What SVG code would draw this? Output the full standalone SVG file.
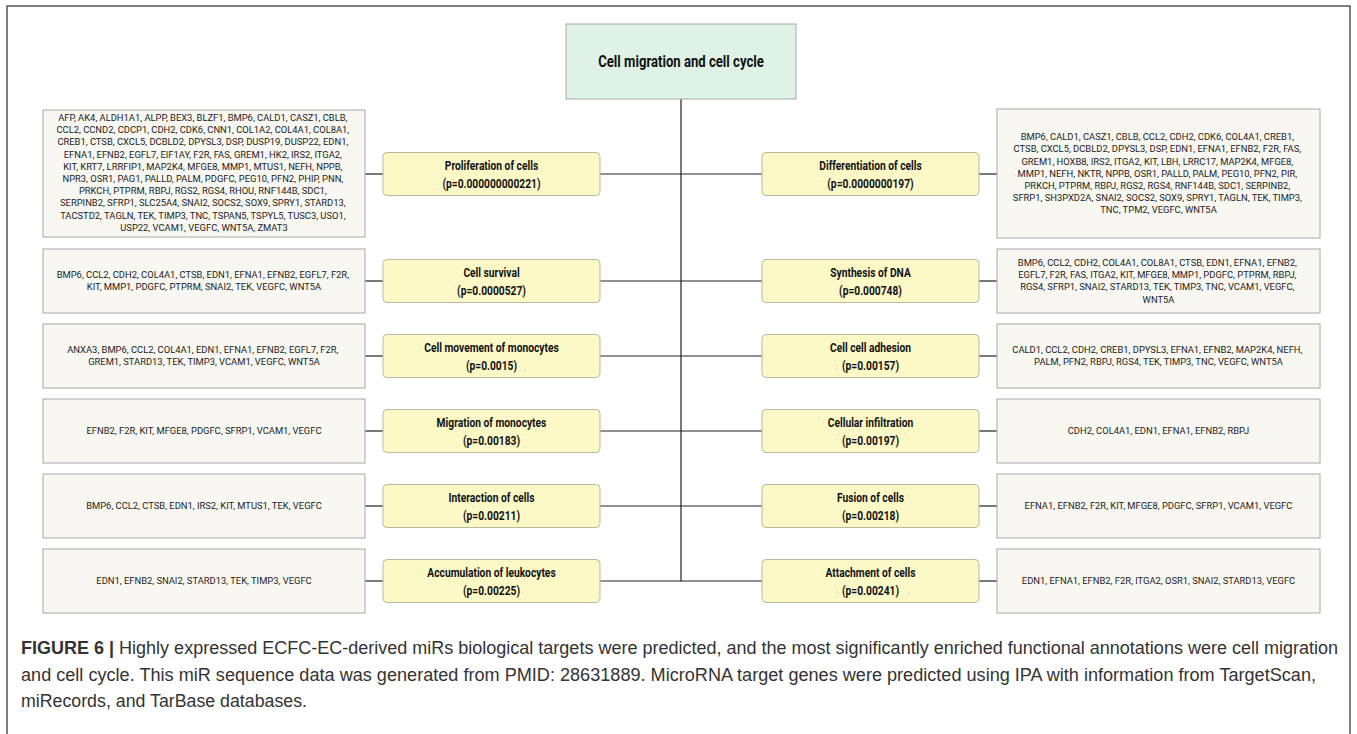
<svg xmlns="http://www.w3.org/2000/svg" width="1357" height="734" viewBox="0 0 1357 734">
<style>
.frame{fill:#fff;stroke:#555;stroke-width:1.5}
.gene{fill:#f8f7f2;stroke:#a8a8a8;stroke-width:1}
.fn{fill:#fcf9c6;stroke:#b9b9a4;stroke-width:1}
.root{fill:#def3e5;stroke:#a8a8a8;stroke-width:1}
.g{font-family:Roboto,"Liberation Sans",sans-serif;font-size:9.4px;fill:#222;text-anchor:middle}
.l{font-family:Roboto,"Liberation Sans",sans-serif;font-size:12.5px;font-weight:700;fill:#111;text-anchor:middle}
.t{font-family:Roboto,"Liberation Sans",sans-serif;font-size:16px;font-weight:700;fill:#111;text-anchor:middle}
.cap{font-family:"Liberation Sans",Arial,sans-serif;font-size:17.5px;fill:#333}
.conn line{stroke:#222;stroke-width:1.2}
</style>
<rect class="frame" x="7" y="6" width="1343" height="740"/>

<g id="connectors" class="conn">
<line x1="681" y1="99" x2="681" y2="581.5"/>
<line x1="365" y1="174" x2="383" y2="174"/><line x1="600" y1="174" x2="762" y2="174"/><line x1="979" y1="174" x2="997" y2="174"/>
<line x1="365" y1="281" x2="383" y2="281"/><line x1="600" y1="281" x2="762" y2="281"/><line x1="979" y1="281" x2="997" y2="281"/>
<line x1="365" y1="356" x2="383" y2="356"/><line x1="600" y1="356" x2="762" y2="356"/><line x1="979" y1="356" x2="997" y2="356"/>
<line x1="365" y1="431" x2="383" y2="431"/><line x1="600" y1="431" x2="762" y2="431"/><line x1="979" y1="431" x2="997" y2="431"/>
<line x1="365" y1="506" x2="383" y2="506"/><line x1="600" y1="506" x2="762" y2="506"/><line x1="979" y1="506" x2="997" y2="506"/>
<line x1="365" y1="581" x2="383" y2="581"/><line x1="600" y1="581" x2="762" y2="581"/><line x1="979" y1="581" x2="997" y2="581"/>
</g>

<g id="root">
<rect class="root" x="566" y="24" width="230" height="75"/>
<text class="t" transform="translate(681,67) scale(0.82,1)">Cell migration and cell cycle</text>
</g>

<g id="f1"><rect class="fn" x="383" y="152.5" width="217" height="43" rx="4"/>
<text class="l" transform="translate(491.5,170) scale(0.82,1)">Proliferation of cells</text>
<text class="l" transform="translate(491.5,188) scale(0.82,1)">(p=0.000000000221)</text></g>
<g id="f2"><rect class="fn" x="762" y="152.5" width="217" height="43" rx="4"/>
<text class="l" transform="translate(870.5,170) scale(0.82,1)">Differentiation of cells</text>
<text class="l" transform="translate(870.5,188) scale(0.82,1)">(p=0.0000000197)</text></g>
<g id="f3"><rect class="fn" x="383" y="259.5" width="217" height="43" rx="4"/>
<text class="l" transform="translate(491.5,277) scale(0.82,1)">Cell survival</text>
<text class="l" transform="translate(491.5,295) scale(0.82,1)">(p=0.0000527)</text></g>
<g id="f4"><rect class="fn" x="762" y="259.5" width="217" height="43" rx="4"/>
<text class="l" transform="translate(870.5,277) scale(0.82,1)">Synthesis of DNA</text>
<text class="l" transform="translate(870.5,295) scale(0.82,1)">(p=0.000748)</text></g>
<g id="f5"><rect class="fn" x="383" y="334.5" width="217" height="43" rx="4"/>
<text class="l" transform="translate(491.5,352) scale(0.82,1)">Cell movement of monocytes</text>
<text class="l" transform="translate(491.5,370) scale(0.82,1)">(p=0.0015)</text></g>
<g id="f6"><rect class="fn" x="762" y="334.5" width="217" height="43" rx="4"/>
<text class="l" transform="translate(870.5,352) scale(0.82,1)">Cell cell adhesion</text>
<text class="l" transform="translate(870.5,370) scale(0.82,1)">(p=0.00157)</text></g>
<g id="f7"><rect class="fn" x="383" y="409.5" width="217" height="43" rx="4"/>
<text class="l" transform="translate(491.5,427) scale(0.82,1)">Migration of monocytes</text>
<text class="l" transform="translate(491.5,445) scale(0.82,1)">(p=0.00183)</text></g>
<g id="f8"><rect class="fn" x="762" y="409.5" width="217" height="43" rx="4"/>
<text class="l" transform="translate(870.5,427) scale(0.82,1)">Cellular infiltration</text>
<text class="l" transform="translate(870.5,445) scale(0.82,1)">(p=0.00197)</text></g>
<g id="f9"><rect class="fn" x="383" y="484.5" width="217" height="43" rx="4"/>
<text class="l" transform="translate(491.5,502) scale(0.82,1)">Interaction of cells</text>
<text class="l" transform="translate(491.5,520) scale(0.82,1)">(p=0.00211)</text></g>
<g id="f10"><rect class="fn" x="762" y="484.5" width="217" height="43" rx="4"/>
<text class="l" transform="translate(870.5,502) scale(0.82,1)">Fusion of cells</text>
<text class="l" transform="translate(870.5,520) scale(0.82,1)">(p=0.00218)</text></g>
<g id="f11"><rect class="fn" x="383" y="559.5" width="217" height="43" rx="4"/>
<text class="l" transform="translate(491.5,577) scale(0.82,1)">Accumulation of leukocytes</text>
<text class="l" transform="translate(491.5,595) scale(0.82,1)">(p=0.00225)</text></g>
<g id="f12"><rect class="fn" x="762" y="559.5" width="217" height="43" rx="4"/>
<text class="l" transform="translate(870.5,577) scale(0.82,1)">Attachment of cells</text>
<text class="l" transform="translate(870.5,595) scale(0.82,1)">(p=0.00241)</text></g>

<g id="g1"><rect class="gene" x="43" y="110" width="322" height="127"/>
<text class="g" x="204">
<tspan x="204" y="121">AFP, AK4, ALDH1A1, ALPP, BEX3, BLZF1, BMP6, CALD1, CASZ1, CBLB,</tspan>
<tspan x="204" y="133.2">CCL2, CCND2, CDCP1, CDH2, CDK6, CNN1, COL1A2, COL4A1, COL8A1,</tspan>
<tspan x="204" y="145.4">CREB1, CTSB, CXCL5, DCBLD2, DPYSL3, DSP, DUSP19, DUSP22, EDN1,</tspan>
<tspan x="204" y="157.6">EFNA1, EFNB2, EGFL7, EIF1AY, F2R, FAS, GREM1, HK2, IRS2, ITGA2,</tspan>
<tspan x="204" y="169.8">KIT, KRT7, LRRFIP1, MAP2K4, MFGE8, MMP1, MTUS1, NEFH, NPPB,</tspan>
<tspan x="204" y="182">NPR3, OSR1, PAG1, PALLD, PALM, PDGFC, PEG10, PFN2, PHIP, PNN,</tspan>
<tspan x="204" y="194.2">PRKCH, PTPRM, RBPJ, RGS2, RGS4, RHOU, RNF144B, SDC1,</tspan>
<tspan x="204" y="206.4">SERPINB2, SFRP1, SLC25A4, SNAI2, SOCS2, SOX9, SPRY1, STARD13,</tspan>
<tspan x="204" y="218.6">TACSTD2, TAGLN, TEK, TIMP3, TNC, TSPAN5, TSPYL5, TUSC3, USO1,</tspan>
<tspan x="204" y="230.8">USP22, VCAM1, VEGFC, WNT5A, ZMAT3</tspan>
</text></g>

<g id="g2"><rect class="gene" x="997" y="109" width="323" height="129"/>
<text class="g">
<tspan x="1158.5" y="140.2">BMP6, CALD1, CASZ1, CBLB, CCL2, CDH2, CDK6, COL4A1, CREB1,</tspan>
<tspan x="1158.5" y="152.4">CTSB, CXCL5, DCBLD2, DPYSL3, DSP, EDN1, EFNA1, EFNB2, F2R, FAS,</tspan>
<tspan x="1158.5" y="164.6">GREM1, HOXB8, IRS2, ITGA2, KIT, LBH, LRRC17, MAP2K4, MFGE8,</tspan>
<tspan x="1158.5" y="176.8">MMP1, NEFH, NKTR, NPPB, OSR1, PALLD, PALM, PEG10, PFN2, PIR,</tspan>
<tspan x="1158.5" y="189">PRKCH, PTPRM, RBPJ, RGS2, RGS4, RNF144B, SDC1, SERPINB2,</tspan>
<tspan x="1158.5" y="201.2">SFRP1, SH3PXD2A, SNAI2, SOCS2, SOX9, SPRY1, TAGLN, TEK, TIMP3,</tspan>
<tspan x="1158.5" y="213.4">TNC, TPM2, VEGFC, WNT5A</tspan>
</text></g>

<g id="g3"><rect class="gene" x="43" y="249" width="322" height="64"/>
<text class="g"><tspan x="204" y="278.2">BMP6, CCL2, CDH2, COL4A1, CTSB, EDN1, EFNA1, EFNB2, EGFL7, F2R,</tspan>
<tspan x="204" y="290.4">KIT, MMP1, PDGFC, PTPRM, SNAI2, TEK, VEGFC, WNT5A</tspan></text></g>

<g id="g4"><rect class="gene" x="997" y="249" width="323" height="64"/>
<text class="g"><tspan x="1158.5" y="265.9">BMP6, CCL2, CDH2, COL4A1, COL8A1, CTSB, EDN1, EFNA1, EFNB2,</tspan>
<tspan x="1158.5" y="278.1">EGFL7, F2R, FAS, ITGA2, KIT, MFGE8, MMP1, PDGFC, PTPRM, RBPJ,</tspan>
<tspan x="1158.5" y="290.3">RGS4, SFRP1, SNAI2, STARD13, TEK, TIMP3, TNC, VCAM1, VEGFC,</tspan>
<tspan x="1158.5" y="302.5">WNT5A</tspan></text></g>

<g id="g5"><rect class="gene" x="43" y="324" width="322" height="64"/>
<text class="g"><tspan x="204" y="353.2">ANXA3, BMP6, CCL2, COL4A1, EDN1, EFNA1, EFNB2, EGFL7, F2R,</tspan>
<tspan x="204" y="365.4">GREM1, STARD13, TEK, TIMP3, VCAM1, VEGFC, WNT5A</tspan></text></g>

<g id="g6"><rect class="gene" x="997" y="324" width="323" height="64"/>
<text class="g"><tspan x="1158.5" y="353.2">CALD1, CCL2, CDH2, CREB1, DPYSL3, EFNA1, EFNB2, MAP2K4, NEFH,</tspan>
<tspan x="1158.5" y="365.4">PALM, PFN2, RBPJ, RGS4, TEK, TIMP3, TNC, VEGFC, WNT5A</tspan></text></g>

<g id="g7"><rect class="gene" x="43" y="399" width="322" height="64"/>
<text class="g" x="204" y="434.3">EFNB2, F2R, KIT, MFGE8, PDGFC, SFRP1, VCAM1, VEGFC</text></g>
<g id="g8"><rect class="gene" x="997" y="399" width="323" height="64"/>
<text class="g" x="1158.5" y="434.3">CDH2, COL4A1, EDN1, EFNA1, EFNB2, RBPJ</text></g>
<g id="g9"><rect class="gene" x="43" y="474" width="322" height="64"/>
<text class="g" x="204" y="509.3">BMP6, CCL2, CTSB, EDN1, IRS2, KIT, MTUS1, TEK, VEGFC</text></g>
<g id="g10"><rect class="gene" x="997" y="474" width="323" height="64"/>
<text class="g" x="1158.5" y="509.3">EFNA1, EFNB2, F2R, KIT, MFGE8, PDGFC, SFRP1, VCAM1, VEGFC</text></g>
<g id="g11"><rect class="gene" x="43" y="549" width="322" height="64"/>
<text class="g" x="204" y="584.3">EDN1, EFNB2, SNAI2, STARD13, TEK, TIMP3, VEGFC</text></g>
<g id="g12"><rect class="gene" x="997" y="549" width="323" height="64"/>
<text class="g" x="1158.5" y="584.3">EDN1, EFNA1, EFNB2, F2R, ITGA2, OSR1, SNAI2, STARD13, VEGFC</text></g>

<g id="caption">
<text class="cap" x="21" y="654" textLength="1317" lengthAdjust="spacingAndGlyphs"><tspan font-weight="700">FIGURE 6 |</tspan> Highly expressed ECFC-EC-derived miRs biological targets were predicted, and the most significantly enriched functional annotations were cell migration</text>
<text class="cap" x="21" y="681" textLength="1295" lengthAdjust="spacingAndGlyphs">and cell cycle. This miR sequence data was generated from PMID: 28631889. MicroRNA target genes were predicted using IPA with information from TargetScan,</text>
<text class="cap" x="21" y="707" textLength="286" lengthAdjust="spacingAndGlyphs">miRecords, and TarBase databases.</text>
</g>
</svg>
